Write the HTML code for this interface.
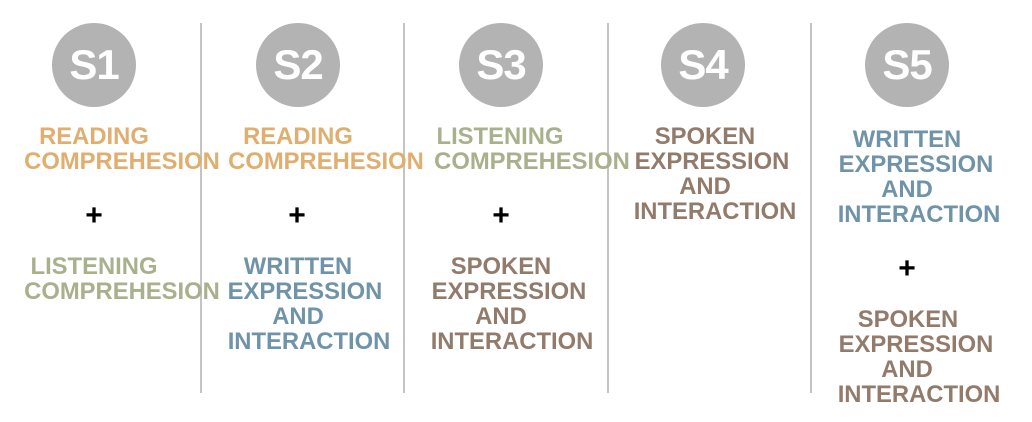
<!DOCTYPE html>
<html><head><style>
body{margin:0;width:1032px;height:422px;background:#fff;position:relative;overflow:hidden;font-family:"Liberation Sans",Arial,sans-serif;}
.v{position:absolute;top:23px;width:2px;height:370px;background:#c4c4c4;}
.c{position:absolute;top:23px;width:84px;height:84px;border-radius:50%;background:#b3b3b3;color:#fff;font-weight:bold;font-size:42px;line-height:84px;text-align:center;letter-spacing:-1px;}
.t{position:absolute;width:300px;text-align:center;font-weight:bold;font-size:23.8px;line-height:25px;white-space:nowrap;}
.o{color:#e0ae6f}.g{color:#a9b08c}.b{color:#927b6b}.u{color:#6f93a9}
.p{position:absolute;width:40px;text-align:center;font-weight:bold;font-size:30px;line-height:28px;color:#000;}
</style></head><body>
<div class="v" style="left:200px"></div>
<div class="v" style="left:403px"></div>
<div class="v" style="left:607px"></div>
<div class="v" style="left:810px"></div>
<div class="c" style="left:52px">S1</div>
<div class="c" style="left:256px">S2</div>
<div class="c" style="left:459px">S3</div>
<div class="c" style="left:661px">S4</div>
<div class="c" style="left:865px">S5</div>

<div class="t o" style="left:-56px;top:124px">READING</div>
<div class="t o" style="left:-28px;top:149px">COMPREHESION</div>
<div class="p" style="left:74px;top:202px">+</div>
<div class="t g" style="left:-56px;top:254px">LISTENING</div>
<div class="t g" style="left:-28px;top:279px">COMPREHESION</div>

<div class="t o" style="left:148px;top:124px">READING</div>
<div class="t o" style="left:176px;top:149px">COMPREHESION</div>
<div class="p" style="left:277px;top:202px">+</div>
<div class="t u" style="left:148px;top:254px">WRITTEN</div>
<div class="t u" style="left:155px;top:279px">EXPRESSION</div>
<div class="t u" style="left:148px;top:304px">AND</div>
<div class="t u" style="left:159px;top:329px">INTERACTION</div>

<div class="t g" style="left:350px;top:124px">LISTENING</div>
<div class="t g" style="left:382px;top:149px">COMPREHESION</div>
<div class="p" style="left:481px;top:202px">+</div>
<div class="t b" style="left:351px;top:254px">SPOKEN</div>
<div class="t b" style="left:359px;top:279px">EXPRESSION</div>
<div class="t b" style="left:351px;top:304px">AND</div>
<div class="t b" style="left:362px;top:329px">INTERACTION</div>

<div class="t b" style="left:555px;top:124px">SPOKEN</div>
<div class="t b" style="left:562px;top:149px">EXPRESSION</div>
<div class="t b" style="left:555px;top:174px">AND</div>
<div class="t b" style="left:565px;top:199px">INTERACTION</div>

<div class="t u" style="left:757px;top:127px">WRITTEN</div>
<div class="t u" style="left:766px;top:152px">EXPRESSION</div>
<div class="t u" style="left:757px;top:177px">AND</div>
<div class="t u" style="left:769px;top:202px">INTERACTION</div>
<div class="p" style="left:887px;top:255px">+</div>
<div class="t b" style="left:758px;top:307px">SPOKEN</div>
<div class="t b" style="left:766px;top:332px">EXPRESSION</div>
<div class="t b" style="left:757px;top:357px">AND</div>
<div class="t b" style="left:769px;top:382px">INTERACTION</div>
</body></html>
